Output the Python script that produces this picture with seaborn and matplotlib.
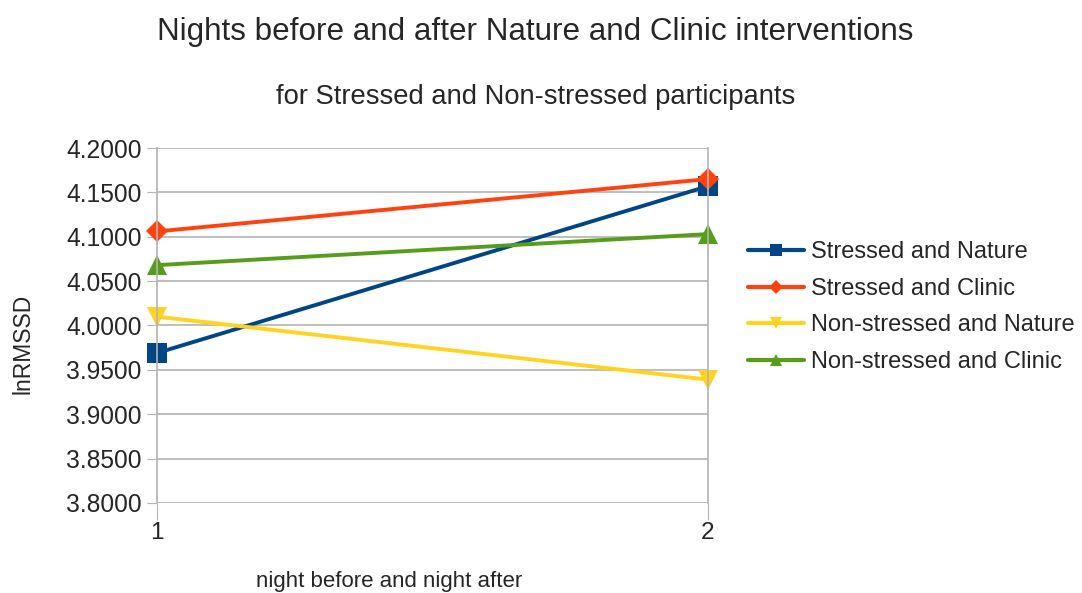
import pandas as pd
import matplotlib.pyplot as plt
import seaborn as sns

nights = [1, 2]
series = ['Stressed and Nature', 'Stressed and Clinic',
          'Non-stressed and Nature', 'Non-stressed and Clinic']
stressed_nature = [3.969, 4.157]
stressed_clinic = [4.106, 4.165]
nonstressed_nature = [4.010, 3.939]
nonstressed_clinic = [4.068, 4.103]
yticks = [3.80, 3.85, 3.90, 3.95, 4.00, 4.05, 4.10, 4.15, 4.20]

values = [stressed_nature, stressed_clinic, nonstressed_nature, nonstressed_clinic]
rows = []
for name, vals in zip(series, values):
    for n, v in zip(nights, vals):
        rows.append({'night': n, 'lnRMSSD': v, 'group': name})
df = pd.DataFrame(rows)

sns.set_style('white')
plt.rcParams['font.family'] = ['Liberation Sans', 'DejaVu Sans']

colors = ['#004586', '#ff420e', '#ffd320', '#579d1c']
markers = ['s', 'D', 'v', '^']
sizes = [14, 11, 15, 14]

fig = plt.figure(figsize=(10.82, 5.93), dpi=100)
ax = fig.add_axes([0.1451, 0.1518, 0.5092, 0.5986])

sns.lineplot(data=df, x='night', y='lnRMSSD', hue='group', style='group',
             hue_order=series, style_order=series,
             palette=dict(zip(series, colors)),
             markers=dict(zip(series, markers)), dashes=False,
             linewidth=2.8, markersize=11, markeredgewidth=0,
             ax=ax, legend=False)
for line, ms in zip(ax.lines, sizes):
    line.set_markersize(ms)
    line.set_clip_on(False)

ax.set_xlim(1, 2)
ax.set_ylim(3.8, 4.2)
ax.set_xticks(nights)
ax.set_xticklabels([str(n) for n in nights], fontsize=17.5)
ax.set_yticks(yticks)
ax.set_yticklabels([f'{t:.4f}' for t in yticks], fontsize=17.7)
ax.yaxis.grid(True, color='#b3b3b3', linewidth=1.2)
ax.set_axisbelow(True)
for s in ['top', 'bottom']:
    ax.spines[s].set_visible(False)
for s in ['left', 'right']:
    ax.spines[s].set_color('#b3b3b3')
    ax.spines[s].set_linewidth(1.2)
ax.tick_params(axis='y', length=7, color='#b3b3b3', left=True, pad=4)
ax.tick_params(axis='x', length=12, color='#b3b3b3', bottom=True, pad=2)
ax.set_xlabel('')
ax.set_ylabel('')

fig.text(0.021, 0.42, 'lnRMSSD', rotation=90, ha='center', va='center', fontsize=16.5)
fig.text(0.36, 0.02, 'night before and night after', ha='center', va='center', fontsize=16)
fig.text(0.495, 0.946, 'Nights before and after Nature and Clinic interventions',
         ha='center', va='center', fontsize=22.6)
fig.text(0.495, 0.836, 'for Stressed and Non-stressed participants',
         ha='center', va='center', fontsize=19.7)

handles = [plt.Line2D([], [], color=c, marker=m, linewidth=3, markersize=ms * 0.62,
                      markeredgewidth=0)
           for c, m, ms in zip(colors, markers, sizes)]
fig.legend(handles, series, loc='center left', bbox_to_anchor=(0.672, 0.482),
           frameon=False, fontsize=17, handlelength=2.35, handletextpad=0.3,
           labelspacing=0.62)

fig.savefig('out.png', dpi=100)
